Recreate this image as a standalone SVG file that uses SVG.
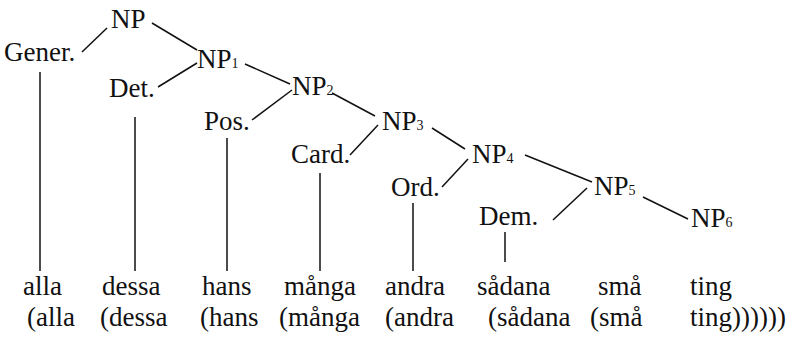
<svg xmlns="http://www.w3.org/2000/svg" width="792" height="337" viewBox="0 0 792 337" font-family="'Liberation Serif', Tinos, 'Times New Roman', 'DejaVu Serif', serif" font-size="27">
<style>
text{fill:#111}
.s{font-size:14px}
line{stroke:#111;stroke-width:1.5}
</style>
<rect width="792" height="337" fill="#fff"/>
<g id="connectors">
<line x1="107" y1="28" x2="82" y2="52"/>
<line x1="152" y1="23" x2="197" y2="50"/>
<line x1="197" y1="63" x2="158" y2="87"/>
<line x1="245" y1="64" x2="290" y2="84"/>
<line x1="292" y1="90" x2="252" y2="120"/>
<line x1="332" y1="93" x2="375" y2="116"/>
<line x1="378" y1="125" x2="350" y2="155"/>
<line x1="432" y1="128" x2="465" y2="149"/>
<line x1="468" y1="159" x2="442" y2="187"/>
<line x1="525" y1="155" x2="592" y2="182"/>
<line x1="587" y1="188" x2="553" y2="220"/>
<line x1="643" y1="197" x2="688" y2="219"/>
<line x1="40" y1="72" x2="40" y2="271"/>
<line x1="135" y1="117" x2="135" y2="271"/>
<line x1="227" y1="138" x2="227" y2="271"/>
<line x1="320" y1="173" x2="320" y2="271"/>
<line x1="413" y1="203" x2="413" y2="271"/>
<line x1="505" y1="232" x2="505" y2="262"/>
</g>
<g id="NP"><text x="111" y="28">NP</text></g>
<g id="Gener"><text x="4" y="61">Gener.</text></g>
<g id="NP1"><text x="197" y="68">NP<tspan class="s">1</tspan></text></g>
<g id="Det"><text x="109" y="97">Det.</text></g>
<g id="NP2"><text x="292" y="95">NP<tspan class="s">2</tspan></text></g>
<g id="Pos"><text x="204" y="130">Pos.</text></g>
<g id="NP3"><text x="382" y="130">NP<tspan class="s">3</tspan></text></g>
<g id="Card"><text x="291" y="163">Card.</text></g>
<g id="NP4"><text x="472" y="163">NP<tspan class="s">4</tspan></text></g>
<g id="Ord"><text x="391" y="196">Ord.</text></g>
<g id="NP5"><text x="594" y="195">NP<tspan class="s">5</tspan></text></g>
<g id="Dem"><text x="479" y="225">Dem.</text></g>
<g id="NP6"><text x="691" y="227">NP<tspan class="s">6</tspan></text></g>
<g id="words">
<text x="23" y="295">alla</text>
<text x="102" y="295">dessa</text>
<text x="202" y="295">hans</text>
<text x="284" y="295">många</text>
<text x="385" y="295">andra</text>
<text x="477" y="295">sådana</text>
<text x="598" y="295">små</text>
<text x="690" y="295">ting</text>
<text x="27" y="326">(alla</text>
<text x="100" y="326">(dessa</text>
<text x="200" y="326">(hans</text>
<text x="279" y="326">(många</text>
<text x="385" y="326">(andra</text>
<text x="488" y="326">(sådana</text>
<text x="590" y="326">(små</text>
<text x="690" y="326">ting))))))</text>
</g>
</svg>
